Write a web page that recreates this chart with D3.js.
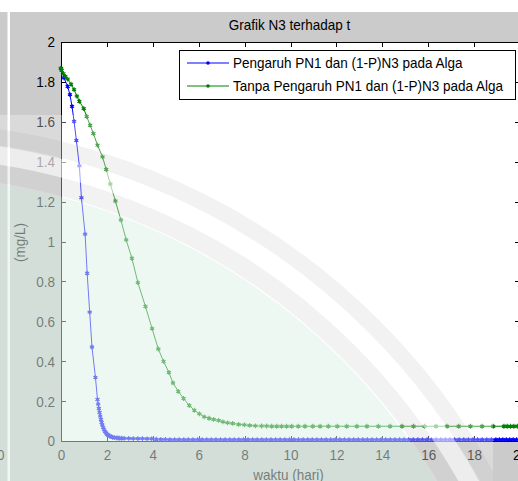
<!DOCTYPE html>
<meta charset="utf-8">

<style>

* {
	margin: 0;
	padding: 0;
}

body {
	background: #fff;
	overflow: hidden;
}

svg {
	display: block;
	font-family: "Liberation Sans", Arial, sans-serif;
}

.axis path, .axis line {
	stroke: #000;
	shape-rendering: crispEdges;
}

.axis text {
	fill: #000;
	font-size: 13.5px;
}

</style>

<body>

<script src="https://cdn.jsdelivr.net/npm/d3@7"></script>

<script>

var titleText = "Grafik N3 terhadap t";
var xLabel = "waktu (hari)";
var yLabel = "(mg/L)";
var seriesNames = ["Pengaruh PN1 dan (1-P)N3 pada Alga", "Tanpa Pengaruh PN1 dan (1-P)N3 pada Alga"];
var seriesColors = ["#0000ff", "#008000"];

var xTicks = [0, 2, 4, 6, 8, 10, 12, 14, 16, 18, 20];
var yTicks = [0, 0.2, 0.4, 0.6, 0.8, 1, 1.2, 1.4, 1.6, 1.8, 2];
var yTickLabels = ["0", "0.2", "0.4", "0.6", "0.8", "1", "1.2", "1.4", "1.6", "1.8", "2"];

// series 1 : dengan pengaruh (biru)
var tBlue = [0, 0.13, 0.29, 0.39, 0.48, 0.57, 0.67, 0.80, 0.89, 1.05, 1.14, 1.25, 1.35, 1.50,
	1.59, 1.62, 1.65, 1.68, 1.71, 1.74, 1.77, 1.80, 1.84, 1.88, 1.92, 1.96, 2.01, 2.06, 2.12,
	2.18, 2.25, 2.32, 2.40, 2.48, 2.56, 2.65,
	2.75, 2.95, 3.15, 3.35, 3.55, 3.75, 3.95, 4.15, 4.35, 4.55, 4.75, 4.95, 5.15, 5.35, 5.55,
	5.75, 5.95, 6.15, 6.35, 6.55, 6.75, 6.95, 7.15, 7.35, 7.55, 7.75, 7.95, 8.15, 8.35, 8.55,
	8.75, 8.95, 9.15, 9.35, 9.55, 9.75, 9.95, 10.15, 10.35, 10.55, 10.75, 10.95, 11.15, 11.35,
	11.55, 11.75, 11.95, 12.15, 12.35, 12.55, 12.75, 12.95, 13.15, 13.35, 13.55, 13.75, 13.95,
	14.15, 14.35, 14.55, 14.75, 14.95, 15.15, 15.35, 15.55, 15.75, 15.95, 16.15, 16.35, 16.55,
	16.75, 16.95, 17.15, 17.35, 17.55, 17.75, 17.95, 18.15, 18.35, 18.55, 18.75, 18.95, 19.1,
	19.25, 19.4, 19.55, 19.7, 19.85, 20];
var yBlue = [1.866, 1.82, 1.777, 1.736, 1.677, 1.602, 1.507, 1.379, 1.219, 1.037, 0.841, 0.646, 0.471, 0.319,
	0.208, 0.185, 0.163, 0.143, 0.125, 0.108, 0.093, 0.080, 0.067, 0.056, 0.047, 0.040, 0.034, 0.029, 0.025,
	0.022, 0.019, 0.017, 0.016, 0.015, 0.014, 0.014,
	0.013, 0.013, 0.012, 0.012, 0.012, 0.011, 0.011, 0.009, 0.008, 0.008, 0.007, 0.007, 0.007, 0.007, 0.007,
	0.007, 0.007, 0.007, 0.007, 0.007, 0.007, 0.007, 0.007, 0.007, 0.007, 0.007, 0.007, 0.007, 0.007, 0.007,
	0.007, 0.007, 0.007, 0.007, 0.007, 0.007, 0.007, 0.007, 0.007, 0.007, 0.007, 0.007, 0.007, 0.007,
	0.007, 0.007, 0.007, 0.007, 0.007, 0.007, 0.007, 0.007, 0.007, 0.007, 0.007, 0.007, 0.007,
	0.007, 0.007, 0.007, 0.007, 0.007, 0.007, 0.007, 0.007, 0.007, 0.007, 0.007, 0.007, 0.007,
	0.007, 0.007, 0.007, 0.007, 0.007, 0.007, 0.007, 0.007, 0.007, 0.007, 0.007, 0.007, 0.007,
	0.007, 0.007, 0.007, 0.007, 0.007, 0.007, 0.007];

// series 2 : tanpa pengaruh (hijau)
var tGreen = [0, 0.03, 0.10, 0.19, 0.29, 0.44, 0.57, 0.69, 0.80, 0.99, 1.12, 1.27, 1.41, 1.59, 1.81,
	1.97, 2.15, 2.37, 2.61, 2.84, 3.09, 3.35, 3.68, 3.97, 4.24, 4.47, 4.70, 4.88, 5.11, 5.34, 5.59,
	5.81, 6.03, 6.24, 6.45, 6.65, 6.87, 7.06, 7.26, 7.48, 7.74, 7.99, 8.22, 8.47, 8.74, 8.96, 9.18,
	9.40, 9.61, 9.83, 10.05, 10.34, 10.63, 10.97, 11.29, 11.65, 12.04, 12.45, 12.89, 13.33, 13.83,
	14.34, 14.86, 15.36, 15.84, 16.34, 16.82, 17.33, 17.84, 18.35, 18.83, 19.30, 19.44, 19.59,
	19.73, 19.88, 20];
var yGreen = [1.869, 1.858, 1.841, 1.828, 1.814, 1.788, 1.761, 1.729, 1.703, 1.666, 1.626, 1.583, 1.541, 1.483, 1.424,
	1.361, 1.288, 1.203, 1.108, 1.008, 0.916, 0.794, 0.674, 0.563, 0.461, 0.399, 0.344, 0.291, 0.249, 0.213, 0.178,
	0.154, 0.136, 0.121, 0.114, 0.108, 0.103, 0.096, 0.091, 0.088, 0.083, 0.081, 0.078, 0.076, 0.075, 0.075, 0.074,
	0.074, 0.074, 0.074, 0.074, 0.074, 0.074, 0.074, 0.074, 0.074, 0.074, 0.074, 0.074, 0.074, 0.074,
	0.074, 0.074, 0.074, 0.074, 0.074, 0.074, 0.074, 0.074, 0.074, 0.074, 0.074, 0.074, 0.074,
	0.074, 0.074, 0.074];

var width = 518,
    height = 481,
    figGray = "#cbcbcb",
    fontSize = "13.5px",
    stretch = "scale(1,1.15)";   // screenshot text is a bit taller than it is wide

var plot = { left: 61, right: 520, top: 42, bottom: 441 };

var svg = d3.select("body").append("svg")
    .attr("width", width)
    .attr("height", height);

function addText(px, py, str, anchor, rot) {
	return svg.append("text")
	    .attr("transform", "translate(" + px + "," + py + ")" + (rot ? " rotate(" + rot + ")" : "") + " " + stretch)
	    .attr("text-anchor", anchor || "start")
	    .attr("font-size", fontSize)
	    .attr("fill", "#000")
	    .text(str);
}

// figure background (matlab grey), white band on top, bit of neighbour figure on the left
svg.append("rect").attr("width", width).attr("height", height).attr("fill", "#fff");
svg.append("rect").attr("x", 10).attr("y", 12).attr("width", width - 10).attr("height", height - 12).attr("fill", figGray);
svg.append("rect").attr("x", 0).attr("y", 12).attr("width", 7.5).attr("height", height - 12).attr("fill", figGray);
addText(-3, 460, "0");

var x = d3.scaleLinear().domain([0, 20]).range([plot.left, plot.right]);
var y = d3.scaleLinear().domain([0, 2]).range([plot.bottom, plot.top]);

svg.append("rect")
    .attr("x", plot.left)
    .attr("y", plot.top)
    .attr("width", plot.right - plot.left)
    .attr("height", plot.bottom - plot.top)
    .attr("fill", "#fff");

// axes, ticks inward like matlab
svg.append("g").attr("class", "axis")
    .attr("transform", "translate(0," + plot.bottom + ")")
    .call(d3.axisBottom(x).tickValues(xTicks).tickFormat(d3.format("d")).tickSizeInner(-5).tickSizeOuter(0).tickPadding(7))
    .selectAll("text").attr("transform", stretch);

svg.append("g").attr("class", "axis")
    .attr("transform", "translate(0," + plot.top + ")")
    .call(d3.axisTop(x).tickValues(xTicks).tickFormat("").tickSizeInner(-5).tickSizeOuter(0));

svg.append("g").attr("class", "axis")
    .attr("transform", "translate(" + plot.left + ",0)")
    .call(d3.axisLeft(y).tickValues(yTicks).tickFormat(function(d, i) { return yTickLabels[i]; }).tickSizeInner(-5).tickSizeOuter(0).tickPadding(6))
    .selectAll("text").attr("transform", stretch);

svg.append("g").attr("class", "axis")
    .attr("transform", "translate(" + plot.right + ",0)")
    .call(d3.axisRight(y).tickValues(yTicks).tickFormat("").tickSizeInner(-5).tickSizeOuter(0));

// series (blue first, green plotted over it)
var series = [
	{ name: seriesNames[0], color: seriesColors[0], t: tBlue, v: yBlue },
	{ name: seriesNames[1], color: seriesColors[1], t: tGreen, v: yGreen }
];

var line = d3.line()
    .x(function(d) { return x(d[0]); })
    .y(function(d) { return y(d[1]); });

var star = d3.symbol().type(d3.symbolAsterisk).size(16);

series.forEach(function(s) {
	var pts = s.t.map(function(t, i) { return [t, s.v[i]]; });

	svg.append("path")
	    .datum(pts)
	    .attr("d", line)
	    .attr("fill", "none")
	    .attr("stroke", s.color)
	    .attr("stroke-width", 1);

	var m = svg.append("g").selectAll("g")
	    .data(pts)
	    .enter().append("g")
	    .attr("transform", function(d) { return "translate(" + x(d[0]) + "," + y(d[1]) + ")"; });

	m.append("path")
	    .attr("d", star)
	    .attr("fill", "none")
	    .attr("stroke", s.color)
	    .attr("stroke-width", 1.1);

	m.append("circle")
	    .attr("r", 1.4)
	    .attr("fill", s.color);
});

// legend
var legend = svg.append("g").attr("transform", "translate(179,50)");

legend.append("rect")
    .attr("x", 0.5)
    .attr("y", 0.5)
    .attr("width", 336)
    .attr("height", 49)
    .attr("fill", "#fff")
    .attr("stroke", "#000");

series.forEach(function(s, i) {
	var ly = 13 + i * 23;
	legend.append("line")
	    .attr("x1", 8).attr("x2", 50)
	    .attr("y1", ly).attr("y2", ly)
	    .attr("stroke", s.color);
	legend.append("circle")
	    .attr("cx", 29).attr("cy", ly)
	    .attr("r", 1.8)
	    .attr("fill", s.color);
	legend.append("text")
	    .attr("transform", "translate(54," + (ly + 5) + ") " + stretch)
	    .attr("font-size", fontSize)
	    .text(s.name);
});

// title and axis labels
addText((plot.left + plot.right) / 2 - 1, 30, titleText, "middle");
addText((plot.left + plot.right) / 2 - 2, 480, xLabel, "middle");
addText(25, (plot.top + plot.bottom) / 2 + 1, yLabel, "middle", -90);

// faint watermark sitting over the lower part of the screenshot
var defs = svg.append("defs");
defs.append("clipPath").attr("id", "wm-clip")
    .append("rect")
    .attr("x", 0).attr("y", 115)
    .attr("width", 493).attr("height", height - 115);

var wm = svg.append("g").attr("clip-path", "url(#wm-clip)");
var wc = { x: -100, y: 800 };

wm.append("rect")
    .attr("x", 0).attr("y", 0)
    .attr("width", width).attr("height", height)
    .attr("fill", "#fff")
    .attr("opacity", 0.3);

wm.append("circle")
    .attr("cx", wc.x).attr("cy", wc.y).attr("r", 624)
    .attr("fill", "rgb(200,232,216)")
    .attr("opacity", 0.3);

wm.append("circle")
    .attr("cx", wc.x).attr("cy", wc.y).attr("r", 634)
    .attr("fill", "none")
    .attr("stroke", "rgb(150,150,150)")
    .attr("stroke-width", 18)
    .attr("opacity", 0.12);

wm.append("circle")
    .attr("cx", wc.x).attr("cy", wc.y).attr("r", 652)
    .attr("fill", "none")
    .attr("stroke", "#fff")
    .attr("stroke-width", 18)
    .attr("opacity", 0.5);

wm.append("circle")
    .attr("cx", wc.x).attr("cy", wc.y).attr("r", 670)
    .attr("fill", "none")
    .attr("stroke", "rgb(150,150,150)")
    .attr("stroke-width", 16)
    .attr("opacity", 0.12);

</script>
